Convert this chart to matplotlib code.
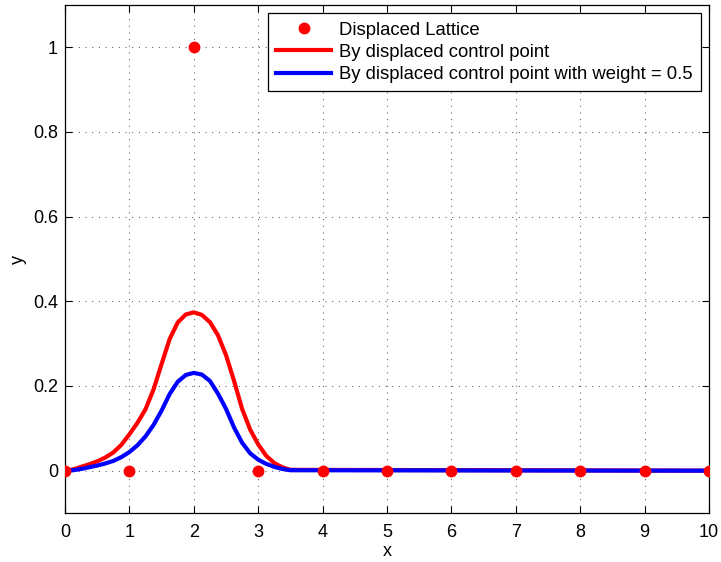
import numpy as np
import matplotlib
matplotlib.use("Agg")
from matplotlib import pyplot as plt

plt.rcParams['font.family'] = ['Liberation Sans', 'DejaVu Sans']

# displaced lattice (control points)
lattice_x = [0, 1, 2, 3, 4, 5, 6, 7, 8, 9, 10]
lattice_y = [0, 0, 1, 0, 0, 0, 0, 0, 0, 0, 0]

# curves
curve_x = [0, 0.125, 0.25, 0.375, 0.5, 0.625, 0.75, 0.875, 1, 1.125, 1.25,
           1.375, 1.5, 1.625, 1.75, 1.875, 2, 2.125, 2.25, 2.375, 2.5,
           2.625, 2.75, 2.875, 3, 3.125, 3.25, 3.375, 3.5, 10]
red_y = [0, 0.003, 0.009, 0.015, 0.022, 0.031, 0.043, 0.061, 0.086, 0.113,
         0.145, 0.192, 0.252, 0.311, 0.350, 0.369, 0.374, 0.368, 0.351,
         0.320, 0.273, 0.212, 0.146, 0.097, 0.062, 0.035, 0.018, 0.008,
         0.002, 0]
blue_y = [0, 0.001, 0.004, 0.008, 0.012, 0.017, 0.023, 0.032, 0.044, 0.060,
          0.081, 0.108, 0.142, 0.181, 0.210, 0.226, 0.231, 0.227, 0.212,
          0.182, 0.146, 0.102, 0.066, 0.041, 0.026, 0.016, 0.009, 0.004,
          0.001, 0]

fig = plt.figure(figsize=(7.21, 5.62), dpi=100)
ax = fig.add_axes([65 / 721, 1 - 513 / 562, 644 / 721, 508 / 562])

ax.plot(lattice_x, lattice_y, 'o', color='red', markersize=7.5,
        label='Displaced Lattice', zorder=3)
ax.plot(curve_x, red_y, '-', color='red', linewidth=3,
        solid_joinstyle='round', label='By displaced control point')
ax.plot(curve_x, blue_y, '-', color='blue', linewidth=3,
        solid_joinstyle='round',
        label='By displaced control point with weight = 0.5')

ax.set_xlim(0, 10)
ax.set_ylim(-0.1, 1.1)
ax.set_xticks(range(0, 11))
ax.set_yticks([0, 0.2, 0.4, 0.6, 0.8, 1])
ax.set_yticklabels(['0', '0.2', '0.4', '0.6', '0.8', '1'])
ax.tick_params(direction='in', top=True, right=True, length=5, width=0.8,
               labelsize=13)
ax.tick_params(axis='x', pad=8)
ax.tick_params(axis='y', pad=5)
ax.grid(True, linestyle=(0, (1, 5)), color='black', linewidth=0.8, alpha=0.6)
ax.set_axisbelow(True)
for s in ax.spines.values():
    s.set_linewidth(0.9)

ax.set_xlabel('x', fontsize=13, labelpad=1)
ax.set_ylabel('y', fontsize=13, labelpad=4)

leg = ax.legend(loc='upper right', fontsize=13.3, fancybox=False,
                edgecolor='black', framealpha=1, handlelength=3.0,
                handletextpad=0.4, borderaxespad=0.45, labelspacing=0.28,
                borderpad=0.45)
leg.get_frame().set_linewidth(0.9)

fig.savefig('out.png', dpi=100)
